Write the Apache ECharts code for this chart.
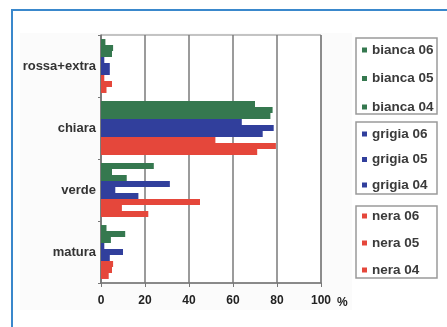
<!DOCTYPE html>
<html>
<head>
<meta charset="utf-8">
<script src="https://cdn.jsdelivr.net/npm/echarts@6/dist/echarts.min.js"></script>
<style>
  html, body { margin: 0; padding: 0; background: #ffffff; }
  #chart { width: 447px; height: 327px; }
</style>
</head>
<body>
<div id="chart"></div>
<script>
// Categories (top to bottom) and the x-axis tick labels
const categories = ['rossa+extra', 'chiara', 'verde', 'matura'];
const xTicks = [0, 20, 40, 60, 80, 100];

// Percentages per category, one array per series
const bianca06 = [2, 70, 24, 2.5];
const bianca05 = [5.5, 78, 5, 11];
const bianca04 = [5, 77, 11.7, 4.5];
const grigia06 = [1.5, 64, 31.3, 1.5];
const grigia05 = [4, 78.5, 6.5, 10];
const grigia04 = [4, 73.5, 17, 4];
const nera06 = [1.5, 52, 45, 5.5];
const nera05 = [5, 79.5, 9.5, 5];
const nera04 = [2.5, 71, 21.5, 3.5];

const GREEN = '#35784f';
const BLUE = '#313f9c';
const RED = '#e5473b';
const FONT = "'Liberation Sans', Arial, sans-serif";

const seriesDefs = [
  { name: 'bianca 06', data: bianca06, color: GREEN },
  { name: 'bianca 05', data: bianca05, color: GREEN },
  { name: 'bianca 04', data: bianca04, color: GREEN },
  { name: 'grigia 06', data: grigia06, color: BLUE },
  { name: 'grigia 05', data: grigia05, color: BLUE },
  { name: 'grigia 04', data: grigia04, color: BLUE },
  { name: 'nera 06', data: nera06, color: RED },
  { name: 'nera 05', data: nera05, color: RED },
  { name: 'nera 04', data: nera04, color: RED }
];

const legendText = { fontFamily: FONT, fontWeight: 'bold', fontSize: 13.5, color: '#3a3a3a' };

function legendGroup(names, top, gap) {
  return {
    z: 20,
    orient: 'vertical',
    left: 362,
    top: top,
    data: names,
    icon: 'rect',
    itemWidth: 5,
    itemHeight: 5,
    itemGap: gap,
    padding: 0,
    selectedMode: false,
    textStyle: legendText
  };
}

const chart = echarts.init(document.getElementById('chart'), null, { renderer: 'canvas' });

chart.setOption({
  animation: false,
  backgroundColor: '#ffffff',
  graphic: [
    // faint panel behind the chart
    { type: 'rect', z: -10, shape: { x: 20, y: 33, width: 332, height: 277 },
      style: { fill: '#fbfbfb' } },
    // blue frame
    { type: 'rect', z: 100, shape: { x: 12, y: 10, width: 470, height: 340 },
      style: { fill: 'none', stroke: '#3a88cc', lineWidth: 2 } },
    // legend boxes
    { type: 'rect', z: 1, shape: { x: 356, y: 38, width: 81, height: 76 },
      style: { fill: '#ffffff', stroke: '#9a9a9a', lineWidth: 1.5 } },
    { type: 'rect', z: 1, shape: { x: 356, y: 122, width: 81, height: 72 },
      style: { fill: '#ffffff', stroke: '#9a9a9a', lineWidth: 1.5 } },
    { type: 'rect', z: 1, shape: { x: 356, y: 206, width: 81, height: 72 },
      style: { fill: '#ffffff', stroke: '#9a9a9a', lineWidth: 1.5 } },
    // unit next to the x-axis labels
    { type: 'text', z: 10, left: 337, top: 297,
      style: { text: '%', font: 'bold 12px ' + FONT, fill: '#222' } }
  ],
  legend: [
    legendGroup(['bianca 06', 'bianca 05', 'bianca 04'], 43, 14.5),
    legendGroup(['grigia 06', 'grigia 05', 'grigia 04'], 127, 11.5),
    legendGroup(['nera 06', 'nera 05', 'nera 04'], 209, 13)
  ],
  grid: {
    left: 101, right: 126, top: 35, bottom: 44,
    show: true, borderColor: '#8a8a8a', borderWidth: 1, backgroundColor: '#ffffff'
  },
  xAxis: {
    type: 'value',
    min: 0, max: 100, interval: 20,
    axisLine: { show: true, lineStyle: { color: '#777', width: 1.5 } },
    axisTick: { show: true, length: 4, lineStyle: { color: '#777' } },
    splitLine: { show: true, lineStyle: { color: '#7a7a7a', width: 1.5 } },
    axisLabel: {
      margin: 12,
      fontFamily: FONT, fontWeight: 'bold', fontSize: 12, color: '#222',
      formatter: v => xTicks.includes(v) ? String(v) : ''
    }
  },
  yAxis: {
    type: 'category',
    inverse: true,
    data: categories,
    axisLine: { show: true, lineStyle: { color: '#777', width: 1.5 } },
    axisTick: { show: true, length: 3, lineStyle: { color: '#777' } },
    axisLabel: { margin: 5, fontFamily: FONT, fontWeight: 'bold', fontSize: 13, color: '#333' }
  },
  series: seriesDefs.map(s => ({
    name: s.name,
    type: 'bar',
    data: s.data,
    barGap: '0%',
    barCategoryGap: '13%',
    itemStyle: { color: s.color }
  }))
});
</script>
</body>
</html>
